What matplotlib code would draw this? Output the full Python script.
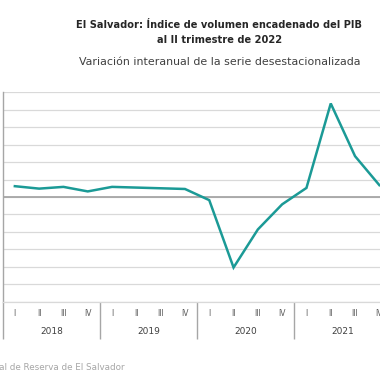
import matplotlib
matplotlib.use("Agg")
import matplotlib.pyplot as plt
import matplotlib.transforms as mtransforms

plt.rcParams['font.family'] = ['DejaVu Sans']

years = ["2018", "2019", "2020", "2021"]
quarters = ["I", "II", "III", "IV"]
# Year-on-year variation (%), seasonally adjusted series
values = [3.1, 2.4, 2.9, 1.6,
          2.9, 2.7, 2.5, 2.3,
          -0.9, -20.2, -9.3, -2.1,
          2.6, 26.8, 11.7, 3.4]
yticks = list(range(-30, 31, 5))

title = "El Salvador: Índice de volumen encadenado del PIB\nal II trimestre de 2022"
subtitle = "Variación interanual de la serie desestacionalizada"
source = "Fuente: Banco Central de Reserva de El Salvador"

W = H = 380.0
fig = plt.figure(figsize=(3.8, 3.8), dpi=100)

n_slots = 18  # quarters 2018-I .. 2022-II
q_px = 24.3
left_px, top_px, bottom_px = 2.7, 92.3, 301.7
ax = fig.add_axes([left_px / W, 1 - bottom_px / H, n_slots * q_px / W, (bottom_px - top_px) / H])

x = list(range(len(values)))
ax.plot(x, values, color="#1b9a96", lw=1.8, solid_joinstyle="miter", zorder=3)

# year separators
sep = [i * 4 - 0.5 for i in range(len(years) + 1)]
ax.set_xticks(sep)
ax.set_xticklabels([])
ax.tick_params(axis="x", which="major", length=26.3, width=1.0, color="#a6a6a6", direction="out")

ax.set_xlim(-0.5, n_slots - 0.5)
ax.set_ylim(yticks[0], yticks[-1])
ax.set_yticks(yticks)
ax.yaxis.grid(True, color="#d9d9d9", lw=0.9)
ax.set_axisbelow(True)
ax.tick_params(axis="y", left=False, labelleft=False)
ax.axhline(0, color="#a6a6a6", lw=1.3, zorder=2)

for s in ["top", "right"]:
    ax.spines[s].set_visible(False)
ax.spines["left"].set_color("#a6a6a6")
ax.spines["left"].set_linewidth(1.0)
ax.spines["bottom"].set_color("#d9d9d9")
ax.spines["bottom"].set_linewidth(0.9)

# quarter and year labels
trans = mtransforms.blended_transform_factory(ax.transData, ax.transAxes)
ax_h_px = bottom_px - top_px
for i in range(len(values)):
    ax.text(i, -11.3 / ax_h_px, quarters[i % 4], transform=trans, ha="center", va="center",
            fontsize=5.5, color="#595959", clip_on=False)
for j, yr in enumerate(years):
    ax.text(j * 4 + 1.5, -30.0 / ax_h_px, yr, transform=trans, ha="center", va="center",
            fontsize=6.5, color="#404040", clip_on=False)

fig.text(219.5 / W, 1 - 32.5 / H, title, ha="center", va="center", fontsize=7.1,
         fontweight="bold", color="#262626", linespacing=1.55)
fig.text(220 / W, 1 - 62 / H, subtitle, ha="center", va="center", fontsize=7.95, color="#404040")
fig.text(125 / W, 1 - 368 / H, source, ha="right", va="center", fontsize=6.3, color="#a6a6a6")

fig.savefig("out.png", dpi=100, facecolor="white")
